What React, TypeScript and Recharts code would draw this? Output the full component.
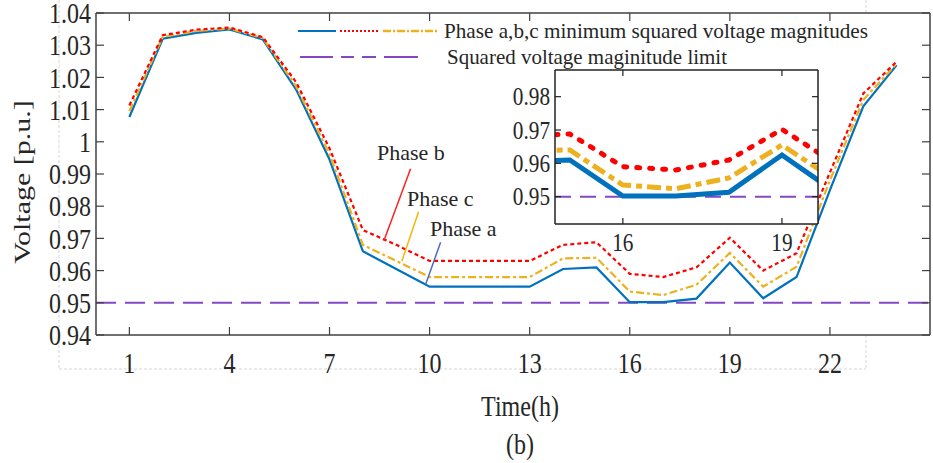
import { CartesianGrid, Line, LineChart, ReferenceLine, XAxis, YAxis } from "recharts";

const HOURS = [1, 2, 3, 4, 5, 6, 7, 8, 9, 10, 11, 12, 13, 14, 15, 16, 17, 18, 19, 20, 21, 22, 23, 24];
const PHASE_A = [1.0077, 1.032, 1.0338, 1.0349, 1.0318, 1.0162, 0.9945, 0.966, 0.9605, 0.955, 0.955, 0.955, 0.955, 0.9605, 0.961, 0.9502, 0.9502, 0.9513, 0.9625, 0.9514, 0.958, 0.985, 1.011, 1.0238];
const PHASE_B = [1.0113, 1.0331, 1.0348, 1.0355, 1.0325, 1.0185, 0.998, 0.9726, 0.968, 0.963, 0.963, 0.963, 0.963, 0.968, 0.9688, 0.959, 0.958, 0.961, 0.9702, 0.96, 0.9654, 0.9905, 1.015, 1.0249];
const PHASE_C = [1.0095, 1.0326, 1.0344, 1.0352, 1.0322, 1.0172, 0.9962, 0.968, 0.963, 0.958, 0.958, 0.958, 0.958, 0.9638, 0.964, 0.9535, 0.9524, 0.9556, 0.9655, 0.955, 0.9612, 0.988, 1.013, 1.0243];
const LIMIT = 0.95;

const MAIN_X_TICKS = [1, 4, 7, 10, 13, 16, 19, 22];
const MAIN_Y_TICKS = [0.94, 0.95, 0.96, 0.97, 0.98, 0.99, 1, 1.01, 1.02, 1.03, 1.04];
const INSET_X_TICKS = [16, 19];
const INSET_Y_TICKS = [0.95, 0.96, 0.97, 0.98];

// leader lines of the "Phase x" notes, in data units
const LEADER_B = [{ x: 9.43, y: 0.9916 }, { x: 8.63, y: 0.9693 }];
const LEADER_C = [{ x: 9.67, y: 0.9783 }, { x: 9.17, y: 0.963 }];
const LEADER_A = [{ x: 10.33, y: 0.9688 }, { x: 9.88, y: 0.9557 }];

const BLUE = "#0072BD";
const RED = "#FF0000";
const YELLOW = "#EDB120";
const PURPLE = "#8548c4";
const AXIS = "#404040";
const TEXT = "#262626";
const FONT = "'Liberation Serif', 'Times New Roman', serif";

const data = HOURS.map((h, i) => ({ hour: h, a: PHASE_A[i], b: PHASE_B[i], c: PHASE_C[i] }));

const fmt = (v: number) => String(Number(v.toFixed(2)));

type TickProps = { x?: number; y?: number; payload?: { value: number } };
type LabelOpt = { size: number; sx: number; gap: number } | null;

function makeTick(side: "left" | "right" | "top" | "bottom", len: number, stroke: string, label: LabelOpt) {
  return function Tick(p: TickProps) {
    const x = p.x ?? 0;
    const y = p.y ?? 0;
    const v = p.payload?.value ?? 0;
    let x2 = x;
    let y2 = y;
    if (side === "left") x2 = x + len;
    if (side === "right") x2 = x - len;
    if (side === "top") y2 = y + len;
    if (side === "bottom") y2 = y - len;
    let txt = null;
    if (label && side === "left") {
      txt = (
        <text
          transform={`translate(${x - label.gap} ${y + label.size * 0.34}) scale(${label.sx} 1)`}
          textAnchor="end"
          fontSize={label.size}
          fontFamily={FONT}
          fill={TEXT}
        >
          {fmt(v)}
        </text>
      );
    }
    if (label && side === "bottom") {
      txt = (
        <text
          transform={`translate(${x} ${y + label.gap}) scale(${label.sx} 1)`}
          textAnchor="middle"
          fontSize={label.size}
          fontFamily={FONT}
          fill={TEXT}
        >
          {fmt(v)}
        </text>
      );
    }
    return (
      <g>
        <line x1={x} y1={y} x2={x2} y2={y2} stroke={stroke} strokeWidth={1.2} />
        {txt}
      </g>
    );
  };
}

const MainLeft = makeTick("left", 8, AXIS, { size: 30, sx: 0.8, gap: 5 });
const MainRight = makeTick("right", 8, AXIS, null);
const MainTop = makeTick("top", 8, AXIS, null);
const MainBottom = makeTick("bottom", 8, AXIS, { size: 30, sx: 0.8, gap: 38 });
const InsetLeft = makeTick("left", 6, "#222", { size: 25, sx: 0.85, gap: 5 });
const InsetRight = makeTick("right", 6, "#222", null);
const InsetTop = makeTick("top", 6, "#222", null);
const InsetBottom = makeTick("bottom", 6, "#222", { size: 25, sx: 0.85, gap: 27 });

const axisLine = { stroke: AXIS, strokeWidth: 1.5 };

function MainChart() {
  return (
    <LineChart width={933} height={463} data={data} margin={{ top: 12, right: 2, bottom: 78, left: 16 }}>
      <XAxis xAxisId="x" dataKey="hour" type="number" domain={[0, 25]} ticks={MAIN_X_TICKS} interval={0}
        allowDataOverflow height={50} tickSize={0} tickMargin={0} tickLine={false} axisLine={axisLine}
        tick={(p: TickProps) => <MainBottom {...p} />} />
      <XAxis xAxisId="top" orientation="top" dataKey="hour" type="number" domain={[0, 25]} ticks={MAIN_X_TICKS}
        interval={0} allowDataOverflow height={1} tickSize={0} tickMargin={0} tickLine={false} axisLine={axisLine}
        tick={(p: TickProps) => <MainTop {...p} />} />
      <YAxis yAxisId="y" type="number" domain={[0.94, 1.04]} ticks={MAIN_Y_TICKS} interval={0} allowDataOverflow
        width={80} tickSize={0} tickMargin={0} tickLine={false} axisLine={axisLine}
        tick={(p: TickProps) => <MainLeft {...p} />} />
      <YAxis yAxisId="right" orientation="right" type="number" domain={[0.94, 1.04]} ticks={MAIN_Y_TICKS}
        interval={0} allowDataOverflow width={1} tickSize={0} tickMargin={0} tickLine={false} axisLine={axisLine}
        tick={(p: TickProps) => <MainRight {...p} />} />
      <CartesianGrid xAxisId="x" yAxisId="y" fill="#fff" stroke="none" />
      <ReferenceLine xAxisId="x" yAxisId="y" y={LIMIT} stroke={PURPLE} strokeWidth={2} strokeDasharray="20 9" />
      <Line xAxisId="x" yAxisId="y" dataKey="a" stroke={BLUE} strokeWidth={2.2} dot={false} isAnimationActive={false} />
      <Line xAxisId="x" yAxisId="y" dataKey="c" stroke={YELLOW} strokeWidth={2.2} strokeDasharray="8 3 3 3" dot={false} isAnimationActive={false} />
      <Line xAxisId="x" yAxisId="y" dataKey="b" stroke={RED} strokeWidth={2.2} strokeDasharray="4 3" dot={false} isAnimationActive={false} />
      <ReferenceLine xAxisId="x" yAxisId="y" segment={LEADER_B} stroke="#ff2020" strokeWidth={1.5} />
      <ReferenceLine xAxisId="x" yAxisId="y" segment={LEADER_C} stroke="#f5b800" strokeWidth={1.5} />
      <ReferenceLine xAxisId="x" yAxisId="y" segment={LEADER_A} stroke="#4a6cc0" strokeWidth={1.5} />
    </LineChart>
  );
}

function InsetChart() {
  const dom: [number, number] = [14.72, 19.68];
  const ydom: [number, number] = [0.9418, 0.988];
  return (
    <LineChart width={327} height={192} data={data} margin={{ top: 1, right: 3, bottom: 35, left: 59 }}>
      <XAxis xAxisId="x" dataKey="hour" type="number" domain={dom} ticks={INSET_X_TICKS} interval={0}
        allowDataOverflow height={1} tickSize={0} tickMargin={0} tickLine={false} axisLine={{ stroke: "#222", strokeWidth: 1.5 }}
        tick={(p: TickProps) => <InsetBottom {...p} />} />
      <XAxis xAxisId="top" orientation="top" dataKey="hour" type="number" domain={dom} ticks={INSET_X_TICKS}
        interval={0} allowDataOverflow height={1} tickSize={0} tickMargin={0} tickLine={false}
        axisLine={{ stroke: "#222", strokeWidth: 1.5 }} tick={(p: TickProps) => <InsetTop {...p} />} />
      <YAxis yAxisId="y" type="number" domain={ydom} ticks={INSET_Y_TICKS} interval={0} allowDataOverflow
        width={1} tickSize={0} tickMargin={0} tickLine={false} axisLine={{ stroke: "#222", strokeWidth: 1.5 }}
        tick={(p: TickProps) => <InsetLeft {...p} />} />
      <YAxis yAxisId="right" orientation="right" type="number" domain={ydom} ticks={INSET_Y_TICKS} interval={0}
        allowDataOverflow width={1} tickSize={0} tickMargin={0} tickLine={false}
        axisLine={{ stroke: "#222", strokeWidth: 1.5 }} tick={(p: TickProps) => <InsetRight {...p} />} />
      <CartesianGrid xAxisId="x" yAxisId="y" fill="#fff" stroke="none" />
      <ReferenceLine xAxisId="x" yAxisId="y" y={LIMIT} stroke={PURPLE} strokeWidth={2} strokeDasharray="16 9" />
      <Line xAxisId="x" yAxisId="y" dataKey="a" stroke={BLUE} strokeWidth={5} dot={false} isAnimationActive={false} />
      <Line xAxisId="x" yAxisId="y" dataKey="c" stroke={YELLOW} strokeWidth={5} strokeDasharray="14 5 6 5" dot={false} isAnimationActive={false} />
      <Line xAxisId="x" yAxisId="y" dataKey="b" stroke={RED} strokeWidth={5} strokeDasharray="3 10" strokeLinecap="round" dot={false} isAnimationActive={false} />
    </LineChart>
  );
}

export default function App() {
  const abs = { position: "absolute" as const, left: 0, top: 0 };
  return (
    <div style={{ ...abs, width: 933, height: 463, background: "#fff", overflow: "hidden" }}>
      <svg width={933} height={463} style={abs}>
        <g stroke="#d6d6d6" strokeWidth={1} strokeDasharray="3 2" fill="none">
          <line x1={59} y1={0} x2={59} y2={369} />
          <line x1={59} y1={369} x2={866} y2={369} />
          <line x1={866} y1={0} x2={866} y2={369} />
        </g>
      </svg>
      <div style={abs}>
        <MainChart />
      </div>
      <div style={{ position: "absolute", left: 495, top: 68 }}>
        <InsetChart />
      </div>
      <svg width={933} height={463} style={{ ...abs, pointerEvents: "none" }}>
        <g fontFamily={FONT} fill={TEXT}>
          <text transform="translate(23 182) scale(0.8 1) rotate(-90)" textAnchor="middle" dy="0.3em" fontSize={30}>
            Voltage [p.u.]
          </text>
          <text transform="translate(520 416) scale(0.8 1)" textAnchor="middle" fontSize={30}>Time(h)</text>
          <text transform="translate(520 454) scale(0.8 1)" textAnchor="middle" fontSize={30}>(b)</text>
          <text x={377} y={160} fontSize={22}>Phase b</text>
          <text x={407} y={206} fontSize={22}>Phase c</text>
          <text x={430} y={236} fontSize={22}>Phase a</text>
          <text x={444} y={38} fontSize={22} textLength={424} lengthAdjust="spacingAndGlyphs">
            Phase a,b,c minimum squared voltage magnitudes
          </text>
          <text x={447} y={64} fontSize={22} textLength={280} lengthAdjust="spacingAndGlyphs">
            Squared voltage maginitude limit
          </text>
        </g>
        <line x1={298} y1={31} x2={336} y2={31} stroke={BLUE} strokeWidth={2} />
        <line x1={340} y1={31} x2={379} y2={31} stroke={RED} strokeWidth={2} strokeDasharray="2 2" />
        <line x1={383} y1={31} x2={438} y2={31} stroke={YELLOW} strokeWidth={2.5} strokeDasharray="8 2 2 2" />
        <line x1={300} y1={57} x2={418} y2={57} stroke={PURPLE} strokeWidth={2} strokeDasharray="33 8 13 8 14 8 34" />
      </svg>
    </div>
  );
}
